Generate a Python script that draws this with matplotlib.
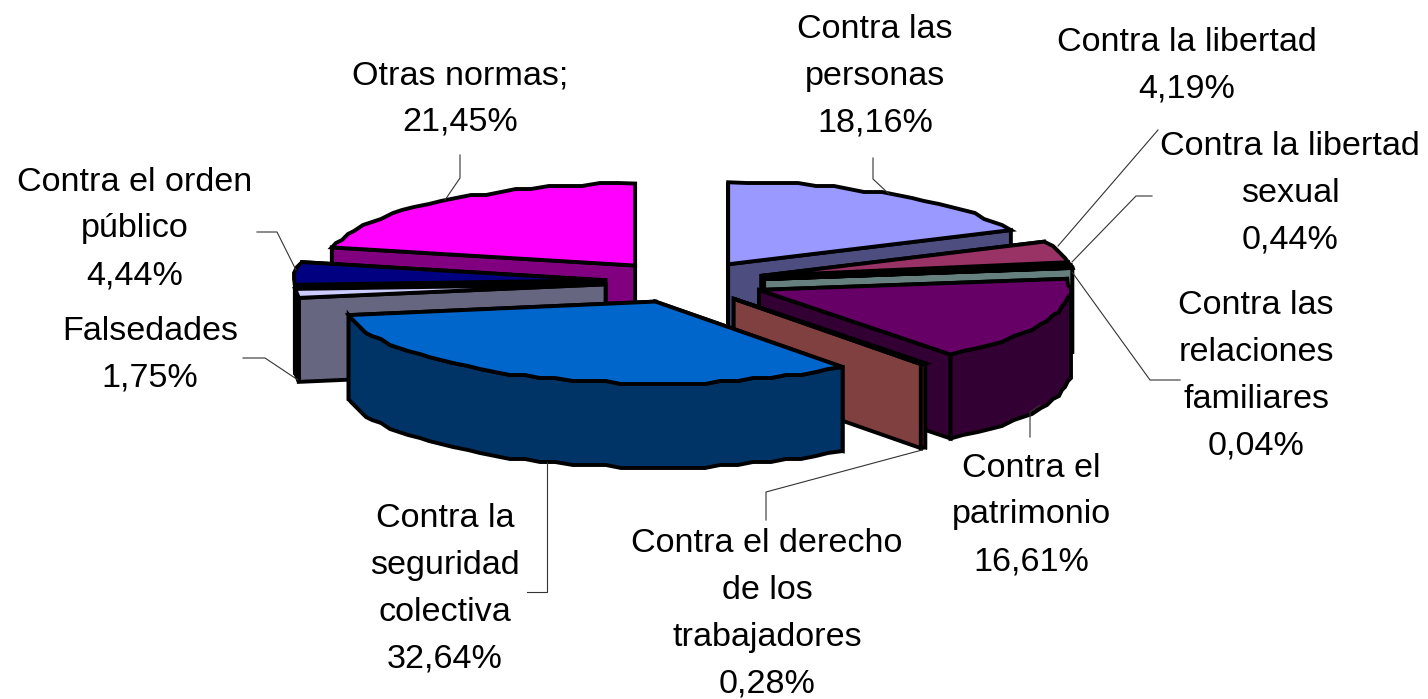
#!/usr/bin/env python3
"""Exploded 3D-look pie of offences by type, drawn as projected polygons."""

import matplotlib

matplotlib.use("Agg")
import matplotlib.pyplot as plt
import numpy as np
from matplotlib.colors import to_rgb
from matplotlib.patches import Polygon

names = [
    "Contra las\npersonas",
    "Contra la libertad",
    "Contra la libertad\nsexual",
    "Contra las\nrelaciones\nfamiliares",
    "Contra el\npatrimonio",
    "Contra el derecho\nde los\ntrabajadores",
    "Contra la\nseguridad\ncolectiva",
    "Falsedades",
    "Contra el orden\npúblico",
    "Otras normas;",
]
values = [18.16, 4.19, 0.44, 0.04, 16.61, 0.28, 32.64, 1.75, 4.44, 21.45]
colors = [
    "#9999FF", "#993366", "#FFFFCC", "#CCFFFF", "#660066",
    "#FF8080", "#0066CC", "#CCCCFF", "#000080", "#FF00FF",
]
label_pos = [
    (875, 76), (1187, 66), (1290, 193), (1256, 376), (1031, 515),
    (767, 614), (445, 589), (150, 355), (135, 229), (460, 99),
]

CX, CY = 685, 282
RX, RY = 311, 82
DEPTH = 84
EXPLODE = 0.257
EDGE = 2.8
GRID = 3  # the original rim is visibly stepped

plt.rcParams["font.family"] = ["Liberation Sans", "DejaVu Sans"]


def project(theta, radius=1.0):
    # theta runs clockwise from twelve o'clock
    return radius * RX * np.sin(theta), -radius * RY * np.cos(theta)


def darker(color):
    return tuple(c * 0.5 for c in to_rgb(color))


def rim_points(a0, a1, ox, oy):
    n = max(int(np.degrees(a1 - a0) / 3), 2)
    th = np.linspace(a0, a1, n)
    x, y = project(th)
    x, y = x + ox, y + oy
    x[1:-1] = np.round(x[1:-1] / GRID) * GRID
    y[1:-1] = np.round(y[1:-1] / GRID) * GRID
    return th, x, y


def draw_slice(ax, a0, a1, color):
    mid = (a0 + a1) / 2
    ex, ey = project(mid, EXPLODE)
    ox, oy = CX + ex, CY + ey
    side = darker(color)
    style = dict(edgecolor="black", linewidth=EDGE, joinstyle="miter")

    # cut faces first, nearest last; the rim and the top cover what is hidden
    for a in sorted((a0, a1), key=lambda t: -np.cos(t)):
        px, py = project(a)
        quad = [(ox, oy), (ox + px, oy + py), (ox + px, oy + py + DEPTH), (ox, oy + DEPTH)]
        ax.add_patch(Polygon(quad, closed=True, facecolor=side, **style))

    th, x, y = rim_points(a0, a1, ox, oy)
    front = np.cos(th) <= 0
    if front.sum() >= 2:
        fx, fy = x[front], y[front]
        pts = list(zip(fx, fy)) + list(zip(fx[::-1], fy[::-1] + DEPTH))
        ax.add_patch(Polygon(pts, closed=True, facecolor=side, **style))

    top = [(ox, oy)] + list(zip(x, y))
    ax.add_patch(Polygon(top, closed=True, facecolor=color, **style))


def main():
    fig = plt.figure(figsize=(14.28, 6.99), dpi=100)
    ax = fig.add_axes([0, 0, 1, 1])
    ax.set_xlim(0, 1428)
    ax.set_ylim(699, 0)
    ax.axis("off")

    edges = np.cumsum([0] + values) / sum(values) * 2 * np.pi
    slices = list(zip(edges[:-1], edges[1:], colors))
    for a0, a1, color in sorted(slices, key=lambda s: -np.cos((s[0] + s[1]) / 2)):
        draw_slice(ax, a0, a1, color)

    leaders = [
        ([873, 873, 889], [158, 179, 194]),
        ([1158, 1058], [130, 246]),
        ([1152, 1136, 1072], [196, 196, 262]),
        ([1180, 1150, 1072], [380, 380, 272]),
        ([1030, 1030, 1040], [437, 412, 405]),
        ([766, 766, 922], [520, 492, 450]),
        ([527, 547, 547], [592, 592, 462]),
        ([243, 265, 298], [358, 358, 380]),
        ([257, 277, 296], [232, 232, 270]),
        ([460, 460, 445], [155, 178, 200]),
    ]
    for xs, ys in leaders:
        ax.plot(xs, ys, color="#333333", lw=0.8, solid_joinstyle="miter")

    for name, val, (x, y) in zip(names, values, label_pos):
        pct = f"{val:.2f}".replace(".", ",") + "%"
        ax.text(x, y, f"{name}\n{pct}", ha="center", va="center", fontsize=24.6,
                linespacing=1.66, color="black")

    fig.savefig("out.png", dpi=100)
    plt.close(fig)


if __name__ == "__main__":
    main()
